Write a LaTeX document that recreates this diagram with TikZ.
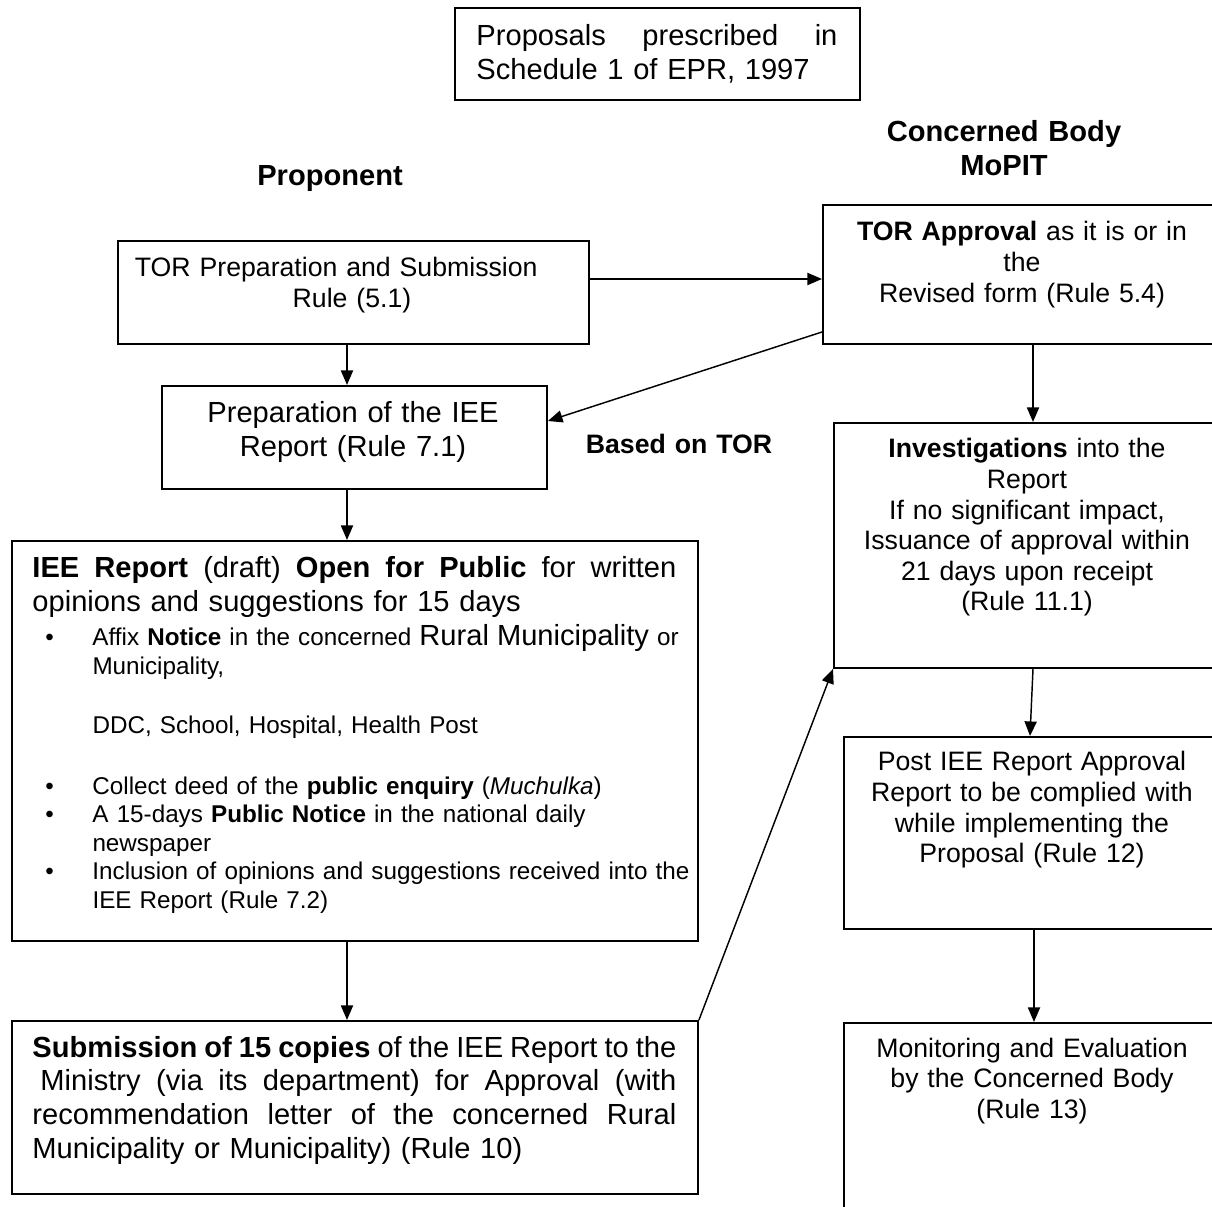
\documentclass[tikz,border=0pt]{standalone}
\usepackage{fontspec}
\setmainfont{Liberation Sans}
\usetikzlibrary{arrows.meta}
\newcommand{\jline}[2]{\makebox[#1][s]{\spaceskip=0.28em plus 1em minus 0.1em\relax#2}}

\begin{document}
\begin{tikzpicture}[x=0.4125pt, y=-0.4125pt,
    box/.style 2 args={draw, line width=0.8pt, minimum width=#1*0.4125pt, minimum height=#2*0.4125pt, anchor=north west, inner sep=0pt},
    fbig/.style={font=\fontsize{12}{14}\selectfont},
    fmid/.style={font=\fontsize{11}{12.6}\selectfont},
    fsmall/.style={font=\fontsize{10}{11.75}\selectfont},
    lbl/.style={text width=180pt, align=center, anchor=base, inner sep=0pt},
    arr/.style={line width=0.6pt, -{Triangle[length=6pt, width=5pt]}}]
  \useasboundingbox (0,0) rectangle (1212,1207);

  \node[box={405}{92}] (proposals) at (454,7) {};
  \node[box={471}{103}] (torprep) at (117,240) {};
  \node[box={400}{139}] (torapp) at (822,204) {};
  \node[box={385}{103}] (prepiee) at (161,385) {};
  \node[box={388}{245}] (invest) at (833,422) {};
  \node[box={686}{400}] (public) at (11,540) {};
  \node[box={378}{192}] (post) at (843,736) {};
  \node[box={686}{173}] (submit) at (11,1020) {};
  \node[box={378}{220}] (monitor) at (843,1022) {};

  \node[lbl, fbig, anchor=base west, text width=148.9pt, align=left] (proposalstxt) at (476,46)
    {\jline{148.9pt}{Proposals prescribed in}\\Schedule 1 of EPR, 1997};
  \node[lbl, fbig] (concerned) at (1004,142) {\textbf{Concerned Body}\\\textbf{MoPIT}};
  \node[lbl, fbig] (proponent) at (330,186) {\textbf{Proponent}};
  \node[lbl, fmid] (torpreptxt) at (352,277) {TOR Preparation and Submission\hspace*{13pt}\mbox{}\\Rule (5.1)};
  \node[lbl, fmid] (torapptxt) at (1022,241) {\textbf{TOR Approval} as it is or in\\the\\Revised form (Rule 5.4)};
  \node[lbl, fbig] (prepieetxt) at (353,423) {Preparation of the IEE\\Report (Rule 7.1)};
  \node[lbl, fmid] (basedtor) at (679,454) {\textbf{Based on TOR}};
  \node[lbl, fmid] (investtxt) at (1027,458)
    {\textbf{Investigations} into the\\Report\\If no significant impact,\\Issuance of approval within\\21 days upon receipt\\(Rule 11.1)};
  \node[lbl, fmid] (posttxt) at (1032,771)
    {Post IEE Report Approval\\Report to be complied with\\while implementing the\\Proposal (Rule 12)};
  \node[lbl, fmid] (monitortxt) at (1032,1057) {Monitoring and Evaluation\\by the Concerned Body\\(Rule 13)};

  \node[fbig, anchor=base west, text width=265.6pt, align=left, inner sep=0pt] (publictxt) at (32,578)
    {\jline{265.6pt}{\textbf{IEE Report} (draft) \textbf{Open for Public} for written}\\
     opinions and suggestions for 15 days};
  \node[fsmall, anchor=base west, text width=270pt, align=left, inner sep=0pt] (noticetxt) at (45,646)
    {\makebox[19.4pt][l]{\textbullet}Affix \textbf{Notice} in the concerned {\fontsize{12}{11.75}\selectfont Rural Municipality} or\\
     \hspace*{19.4pt}Municipality,\\[12.6pt]
     \hspace*{19.4pt}DDC, School, Hospital, Health Post\\[13.4pt]
     \makebox[19.4pt][l]{\textbullet}Collect deed of the \textbf{public enquiry} (\textit{Muchulka})\\
     \makebox[19.4pt][l]{\textbullet}A 15-days \textbf{Public Notice} in the national daily\\
     \hspace*{19.4pt}newspaper\\
     \makebox[19.4pt][l]{\textbullet}Inclusion of opinions and suggestions received into the\\
     \hspace*{19.4pt}IEE Report (Rule 7.2)};
  \node[fbig, anchor=base west, text width=265.6pt, align=left, inner sep=0pt] (submittxt) at (32,1057)
    {\jline{265.6pt}{\textbf{Submission of 15 copies} of the IEE Report to the}\\
     \jline{265.6pt}{\hspace*{3.3pt}Ministry (via its department) for Approval (with}\\
     \jline{265.6pt}{recommendation letter of the concerned Rural}\\
     Municipality or Municipality) (Rule 10)};

  \draw[arr] (torprep.east |- 0,279) -- (torapp.west |- 0,279);
  \draw[arr] (torprep.south -| 347,0) -- (prepiee.north -| 347,0);
  \draw[arr] (torapp.west |- 0,332) -- (prepiee.east |- 0,421);
  \draw[arr] (torapp.south -| 1033,0) -- (invest.north -| 1033,0);
  \draw[arr] (prepiee.south -| 347,0) -- (public.north -| 347,0);
  \draw[arr] (public.south -| 347,0) -- (submit.north -| 347,0);
  \draw[arr] (submit.north east) -- (invest.south west);
  \draw[arr] (invest.south -| 1033,0) -- (post.north -| 1030,0);
  \draw[arr] (post.south -| 1034,0) -- (monitor.north -| 1034,0);
\end{tikzpicture}
\end{document}
